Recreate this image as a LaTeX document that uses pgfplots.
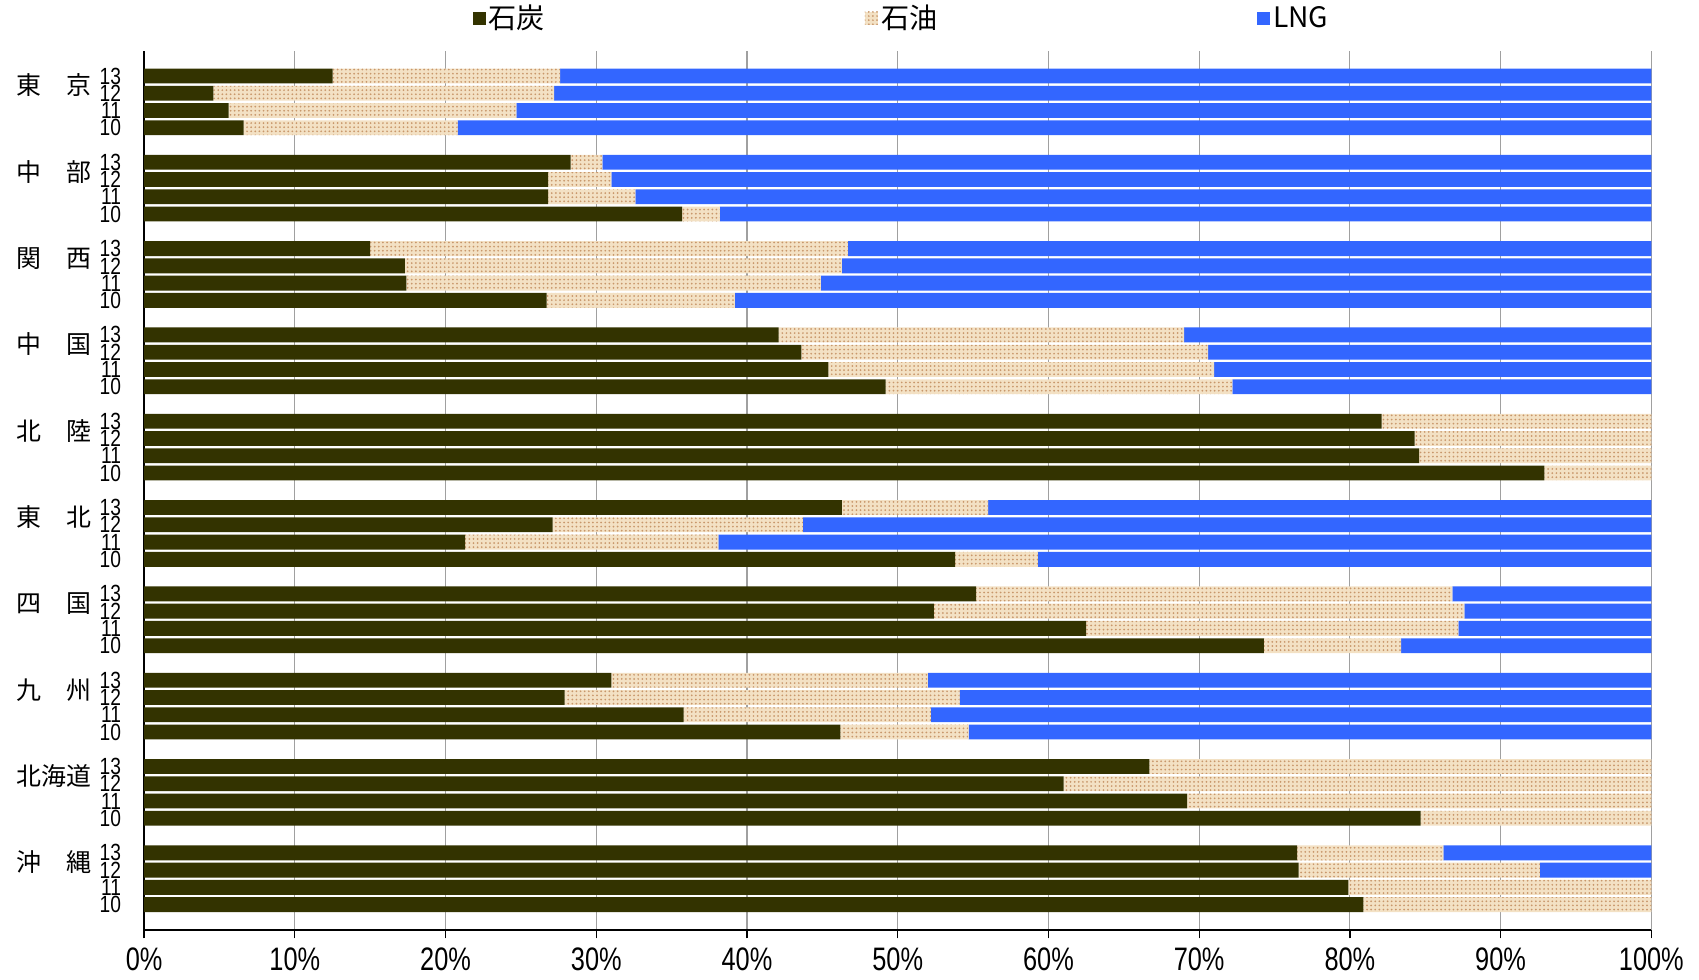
\documentclass[border=0pt]{standalone}
\usepackage{fontspec}
\setmainfont{Liberation Sans}
\newfontfamily\jpfont{Noto Sans CJK JP}
\usepackage{pgfplots}
\usepackage{pgfplotstable}
\pgfplotsset{compat=1.18}
\usetikzlibrary{patterns}

\definecolor{coal}{HTML}{333300}
\definecolor{oilbg}{HTML}{F3E1C4}
\definecolor{oildot}{HTML}{C8976A}
\definecolor{lng}{HTML}{3366FF}
\definecolor{gridgray}{HTML}{A0A0A0}

% fine dot texture for the oil share
\pgfdeclarepatternformonly{finedots}{\pgfqpoint{-0.5pt}{-0.5pt}}{\pgfqpoint{0.5pt}{0.5pt}}{\pgfqpoint{1.9pt}{1.9pt}}{%
  \pgfpathcircle{\pgfqpoint{0pt}{0pt}}{0.45pt}\pgfusepath{fill}}

% fuel shares (%) of thermal generation by utility, fiscal years 10-13
% y: bar position (13 on top of each group)
\pgfplotstableread{
y  coal oil  lng
49 12.5 15.1 72.4
48 4.6  22.6 72.8
47 5.6  19.1 75.3
46 6.6  14.2 79.2
44 28.3 2.1  69.6
43 26.8 4.2  69.0
42 26.8 5.8  67.4
41 35.7 2.5  61.8
39 15.0 31.7 53.3
38 17.3 29.0 53.7
37 17.4 27.5 55.1
36 26.7 12.5 60.8
34 42.1 26.9 31.0
33 43.6 27.0 29.4
32 45.4 25.6 29.0
31 49.2 23.0 27.8
29 82.1 17.9 0
28 84.3 15.7 0
27 84.6 15.4 0
26 92.9 7.1  0
24 46.3 9.7  44.0
23 27.1 16.6 56.3
22 21.3 16.8 61.9
21 53.8 5.5  40.7
19 55.2 31.6 13.2
18 52.4 35.2 12.4
17 62.5 24.7 12.8
16 74.3 9.1  16.6
14 31.0 21.0 48.0
13 27.9 26.2 45.9
12 35.8 16.4 47.8
11 46.2 8.5  45.3
9  66.7 33.3 0
8  61.0 39.0 0
7  69.2 30.8 0
6  84.7 15.3 0
4  76.5 9.7  13.8
3  76.6 16.0 7.4
2  79.9 20.1 0
1  80.9 19.1 0
}\shares

\tikzset{grp/.style={anchor=east, inner sep=0pt, font=\jpfont\fontsize{11.5}{12}\selectfont}}

\begin{document}
\begin{tikzpicture}
\useasboundingbox (-66.5pt,-23pt) rectangle (717.5pt,429pt);
\begin{axis}[
  scale only axis,
  width=695.5pt, height=405.5pt,
  clip=false,
  xbar stacked,
  bar width=0.86,
  xmin=0, xmax=100,
  ymin=-0.45, ymax=50.45,
  axis x line*=bottom,
  axis y line*=left,
  axis line style={black, line width=0.8pt},
  xtick={0,10,...,100},
  xticklabels={0\%,10\%,20\%,30\%,40\%,50\%,60\%,70\%,80\%,90\%,100\%},
  xticklabel style={font=\fontsize{15}{15}\selectfont, xscale=0.78, yshift=-1pt},
  tick align=outside,
  major tick length=4pt,
  xtick style={black, line width=0.6pt},
  xmajorgrids,
  grid style={gridgray, line width=0.5pt},
  ytick={1,2,3,4,6,7,8,9,11,12,13,14,16,17,18,19,21,22,23,24,26,27,28,29,31,32,33,34,36,37,38,39,41,42,43,44,46,47,48,49},
  yticklabels={10,11,12,13,10,11,12,13,10,11,12,13,10,11,12,13,10,11,12,13,10,11,12,13,10,11,12,13,10,11,12,13,10,11,12,13,10,11,12,13},
  ytick style={draw=none},
  yticklabel style={xshift=-6.5pt, font=\fontsize{10.8}{11}\selectfont, xscale=0.82, inner sep=0pt, anchor=east},
  legend columns=3,
  legend style={at={(0.5,1)}, anchor=center, yshift=15pt, xshift=2pt,
    draw=none, fill=none, font=\jpfont\fontsize{13}{15}\selectfont,
    nodes={inner sep=1.5pt},
    /tikz/every even column/.append style={column sep=146pt}},
  legend image code/.code={\path[#1, draw=none] (0pt,-3pt) rectangle (6pt,3pt);},
]
\addplot[fill=coal, draw=none] table[x=coal, y=y] {\shares};
\addplot[fill=oilbg, draw=none,
  postaction={pattern=finedots, pattern color=oildot}]
  table[x=oil, y=y] {\shares};
\addplot[fill=lng, draw=none] table[x=lng, y=y] {\shares};
\legend{石炭,石油,LNG}

% utility names beside each group
\node[grp] at ([xshift=-24pt]axis cs:0,48.45) {東　京};
\node[grp] at ([xshift=-24pt]axis cs:0,43.45) {中　部};
\node[grp] at ([xshift=-24pt]axis cs:0,38.45) {関　西};
\node[grp] at ([xshift=-24pt]axis cs:0,33.45) {中　国};
\node[grp] at ([xshift=-24pt]axis cs:0,28.45) {北　陸};
\node[grp] at ([xshift=-24pt]axis cs:0,23.45) {東　北};
\node[grp] at ([xshift=-24pt]axis cs:0,18.45) {四　国};
\node[grp] at ([xshift=-24pt]axis cs:0,13.45) {九　州};
\node[grp] at ([xshift=-24pt]axis cs:0,8.45) {北海道};
\node[grp] at ([xshift=-24pt]axis cs:0,3.45) {沖　縄};
\end{axis}
\end{tikzpicture}
\end{document}
